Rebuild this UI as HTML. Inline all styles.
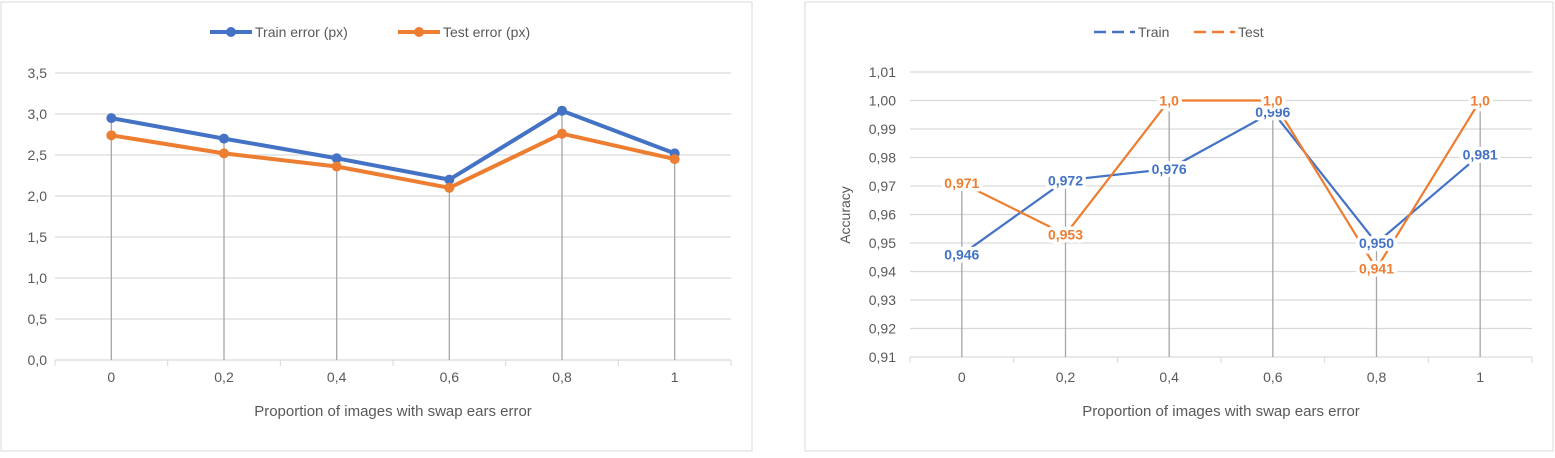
<!DOCTYPE html>
<html><head><meta charset="utf-8"><style>
body{margin:0;background:#fff;width:1555px;height:453px;overflow:hidden;font-family:"Liberation Sans",sans-serif}
svg text{font-family:"Liberation Sans",sans-serif}
</style></head><body>
<svg id="s" width="1555" height="453" xmlns="http://www.w3.org/2000/svg">
<rect x="1" y="2" width="751" height="449" fill="#fff" stroke="#d9d9d9"/>
<rect x="805" y="2" width="748" height="449" fill="#fff" stroke="#d9d9d9"/>
</svg>
<script>
const categories=["0","0,2","0,4","0,6","0,8","1"];
const trainErr=[2.95,2.70,2.46,2.20,3.04,2.52];
const testErr=[2.74,2.52,2.36,2.10,2.76,2.45];
const errTicks=["0,0","0,5","1,0","1,5","2,0","2,5","3,0","3,5"];
const trainAcc=[0.946,0.972,0.976,0.996,0.950,0.981];
const testAcc=[0.971,0.953,1.0,1.0,0.941,1.0];
const trainAccLabels=["0,946","0,972","0,976","0,996","0,950","0,981"];
const testAccLabels=["0,971","0,953","1,0","1,0","0,941","1,0"];
const accTicks=["0,91","0,92","0,93","0,94","0,95","0,96","0,97","0,98","0,99","1,00","1,01"];

const S=document.getElementById('s');const NS="http://www.w3.org/2000/svg";
function mk(t,a,txt){const e=document.createElementNS(NS,t);for(const k in a)e.setAttribute(k,a[k]);if(txt!==undefined)e.textContent=txt;S.appendChild(e);return e;}
const BLUE="#4472c4",ORANGE="#ed7d31",GRID="#d9d9d9",TXT="#595959";

// LEFT CHART
(function(){
const L=55,R=731,T=73,B=360,ymin=0,ymax=3.5;
const x=i=>L+(R-L)/categories.length*(i+0.5);
const y=v=>B-(v-ymin)/(ymax-ymin)*(B-T);
errTicks.forEach((t,i)=>{const v=i*0.5;
 let g=mk('line',{x1:L,x2:R,y1:y(v),y2:y(v),stroke:GRID,'stroke-width':1.3});
 
 let tx=mk('text',{x:47,y:y(v)+5,'text-anchor':'end','font-size':14,fill:TXT},t);
 });
for(let i=0;i<=categories.length;i++){const xx=L+(R-L)/categories.length*i;
 let tk=mk('line',{x1:xx,x2:xx,y1:B,y2:B+6,stroke:GRID});
 }
categories.forEach((c,i)=>{
 let d=mk('line',{x1:x(i),x2:x(i),y1:y(Math.max(trainErr[i],testErr[i])),y2:B,stroke:'#a6a6a6','stroke-width':1.3});
 
 let t=mk('text',{x:x(i),y:382,'text-anchor':'middle','font-size':14,fill:TXT},c);
 });
[[trainErr,BLUE,'train-error'],[testErr,ORANGE,'test-error']].forEach(([d,c,n])=>{
 let p=mk('polyline',{points:d.map((v,i)=>x(i)+','+y(v)).join(' '),fill:'none',stroke:c,'stroke-width':4,'stroke-linejoin':'round'});
 
 d.forEach((v,i)=>{let m=mk('circle',{cx:x(i),cy:y(v),r:5,fill:c});
  });});
let ti=mk('text',{x:393,y:416,'text-anchor':'middle','font-size':15,fill:TXT},'Proportion of images with swap ears error');

let l1=mk('line',{x1:210,x2:252,y1:32,y2:32,stroke:BLUE,'stroke-width':4});
let c1=mk('circle',{cx:231,cy:32,r:5,fill:BLUE});
let t1=mk('text',{x:255,y:37,'font-size':14,fill:TXT},'Train error (px)');
let l2=mk('line',{x1:398,x2:440,y1:32,y2:32,stroke:ORANGE,'stroke-width':4});
let c2=mk('circle',{cx:419,cy:32,r:5,fill:ORANGE});
let t2=mk('text',{x:443,y:37,'font-size':14,fill:TXT},'Test error (px)');
})();

// RIGHT CHART
(function(){
const L=910,R=1532,T=72,B=357,ymin=0.91,ymax=1.01;
const x=i=>L+(R-L)/categories.length*(i+0.5);
const y=v=>B-(v-ymin)/(ymax-ymin)*(B-T);
accTicks.forEach((t,i)=>{const v=0.91+i*0.01;
 let g=mk('line',{x1:L,x2:R,y1:y(v),y2:y(v),stroke:GRID,'stroke-width':1.3});
 
 let tx=mk('text',{x:896,y:y(v)+5,'text-anchor':'end','font-size':14,fill:TXT},t);
 });
for(let i=0;i<=categories.length;i++){const xx=L+(R-L)/categories.length*i;
 let tk=mk('line',{x1:xx,x2:xx,y1:B,y2:B+6,stroke:GRID});
 }
categories.forEach((c,i)=>{
 let d=mk('line',{x1:x(i),x2:x(i),y1:y(Math.max(trainAcc[i],testAcc[i])),y2:B,stroke:'#a6a6a6','stroke-width':1.3});
 
 let t=mk('text',{x:x(i),y:382,'text-anchor':'middle','font-size':14,fill:TXT},c);
 });
[[trainAcc,BLUE,'train-accuracy'],[testAcc,ORANGE,'test-accuracy']].forEach(([d,c,n])=>{
 let p=mk('polyline',{points:d.map((v,i)=>x(i)+','+y(v)).join(' '),fill:'none',stroke:c,'stroke-width':2.2});
 });
[[trainAcc,trainAccLabels,BLUE,'train-accuracy'],[testAcc,testAccLabels,ORANGE,'test-accuracy']].forEach(([d,lb,c,n])=>{
 d.forEach((v,i)=>{let t=mk('text',{x:x(i),y:y(v)+5,'text-anchor':'middle','font-size':14,'font-weight':'bold',fill:c,stroke:'#fff','stroke-width':7,'paint-order':'stroke','stroke-linejoin':'round'},lb[i]);
  });});
let yt=mk('text',{x:0,y:0,'text-anchor':'middle','font-size':14,fill:TXT,transform:'translate(850,215) rotate(-90)'},'Accuracy');

let ti=mk('text',{x:1221,y:416,'text-anchor':'middle','font-size':15,fill:TXT},'Proportion of images with swap ears error');

let l1=mk('line',{x1:1094,x2:1135,y1:32,y2:32,stroke:BLUE,'stroke-width':2.5,'stroke-dasharray':'12,6'});
let t1=mk('text',{x:1138,y:37,'font-size':14,fill:TXT},'Train');
let l2=mk('line',{x1:1194,x2:1235,y1:32,y2:32,stroke:ORANGE,'stroke-width':2.5,'stroke-dasharray':'12,6'});
let t2=mk('text',{x:1238,y:37,'font-size':14,fill:TXT},'Test');
})();
</script>
</body></html>
